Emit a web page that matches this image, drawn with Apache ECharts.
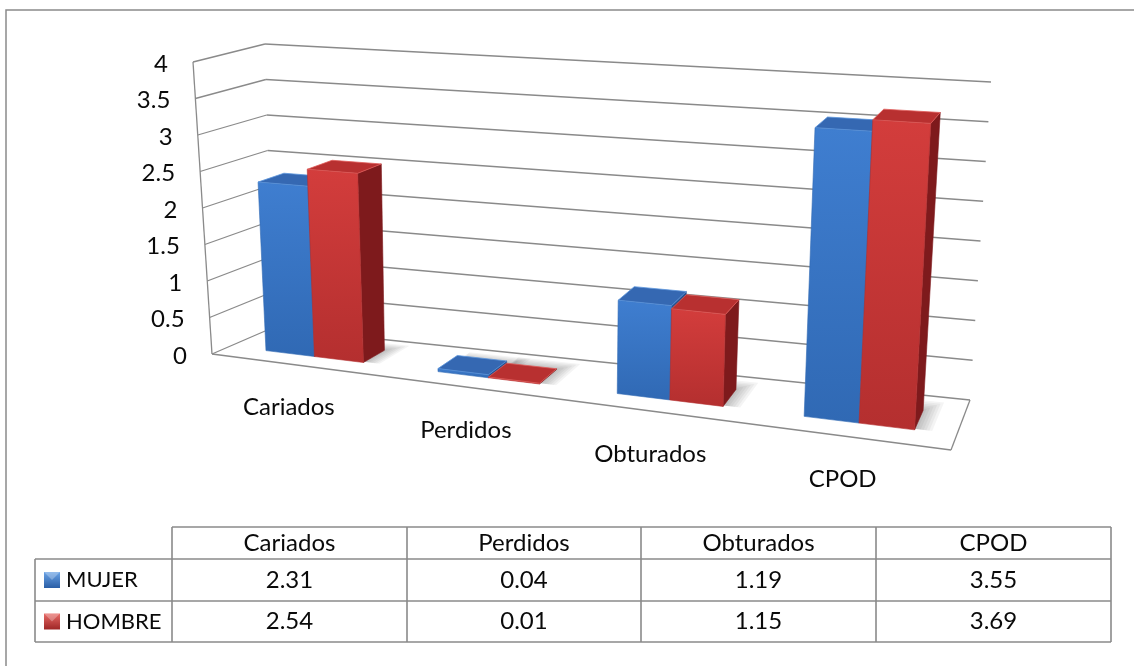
<!DOCTYPE html>
<html>
<head>
<meta charset="utf-8">
<script src="https://cdn.jsdelivr.net/npm/echarts@6/dist/echarts.min.js"></script>
<style>
  html, body { margin: 0; padding: 0; background: #ffffff; }
  #chart { width: 1134px; height: 666px; }
</style>
</head>
<body>
<div id="chart"></div>
<script>
// ---- data ----
const categories = ['Cariados', 'Perdidos', 'Obturados', 'CPOD'];
const seriesNames = ['MUJER', 'HOMBRE'];
const mujer = [2.31, 0.04, 1.19, 3.55];
const hombre = [2.54, 0.01, 1.15, 3.69];
const yTicks = [0, 0.5, 1, 1.5, 2, 2.5, 3, 3.5, 4];
const yTickLabels = ['0', '0.5', '1', '1.5', '2', '2.5', '3', '3.5', '4'];

// ---- look ----
const FONT_FAMILY = 'Lato, "Open Sans", sans-serif';
const FONT_SIZE = 24;
const KEY_FONT_SIZE = 22;
const LINE_COLOR = '#8a8a8a';
const TEXT_COLOR = '#0a0a0a';

// corners of the 3D plot box (front/back, left/right, bottom/top)
const BOX = {
  flb: [212, 354], frb: [951, 450], blb: [272, 328], brb: [970, 400],
  flt: [193, 62],  frt: [970, 108], blt: [265, 44],  brt: [991, 82]
};
const PERSPECTIVE_U = 0.92;   // horizontal foreshortening toward the far (left) side
const DEPTH_FRONT = 0.3, DEPTH_BACK = 0.7; // bar row position in depth
const GAP_WIDTH = 1.5;        // gap between clusters, in bar widths

function lerp(a, b, t) { return [a[0] + (b[0] - a[0]) * t, a[1] + (b[1] - a[1]) * t]; }
function warpU(u) { const c = PERSPECTIVE_U; return u * c / (1 + (c - 1) * u); }
// u: along categories, v: along values (0..1), w: depth (0 front .. 1 back)
function project(u, v, w) {
  const s = warpU(u);
  const fb = lerp(BOX.flb, BOX.frb, s), bb = lerp(BOX.blb, BOX.brb, s);
  const ft = lerp(BOX.flt, BOX.frt, s), bt = lerp(BOX.blt, BOX.brt, s);
  return lerp(lerp(fb, bb, w), lerp(ft, bt, w), v);
}

// unit coordinates from the hidden cartesian grid
function uOf(cs, px) { return (px - cs.x) / cs.width; }
function vOf(cs, py) { return (cs.y + cs.height - py) / cs.height; }

function line(p, q) {
  return { type: 'line', shape: { x1: p[0], y1: p[1], x2: q[0], y2: q[1] },
           style: { stroke: LINE_COLOR, lineWidth: 1.3 }, silent: true };
}
function poly(points, fill, extra) {
  return { type: 'polygon', shape: { points: points },
    style: Object.assign({ fill: fill }, extra || {}), silent: true };
}
function text(x, y, str, align, size) {
  return { type: 'text', x: x, y: y, silent: true,
    style: { text: str, fill: TEXT_COLOR, fontFamily: FONT_FAMILY, fontSize: size || FONT_SIZE,
             align: align || 'center', verticalAlign: 'middle' } };
}

// walls, gridlines and value labels, one item per tick
function renderWalls(params, api) {
  const cs = params.coordSys;
  const v = vOf(cs, api.coord([0, api.value(1)])[1]);
  const children = [
    line(project(0, v, 0), project(0, v, 1)),
    line(project(0, v, 1), project(1, v, 1))
  ];
  const lp = project(0, v, 0);
  children.push(text(lp[0] - 25, lp[1] + 2, yTickLabels[params.dataIndex], 'right'));
  if (params.dataIndex === 0) {
    const vTop = vOf(cs, api.coord([0, yTicks[yTicks.length - 1]])[1]);
    children.push(line(project(0, 0, 0), project(0, vTop, 0)));
    children.push(line(project(0, 0, 0), project(1, 0, 0)));
    children.push(line(project(1, 0, 0), project(1, 0, 1)));
  }
  return { type: 'group', children: children };
}

function barSpan(params, api, seriesPos) {
  const cs = params.coordSys;
  const uc = uOf(cs, api.coord([api.value(0), 0])[0]);
  const band = api.size([1, 0])[0] / cs.width;
  const bw = band / (2 + GAP_WIDTH);
  const u0 = uc - bw + seriesPos * bw;
  return { u0: u0, u1: u0 + bw, v: vOf(cs, api.coord([api.value(0), api.value(1)])[1]) };
}

// soft floor shadow: stacked translucent footprints growing to the right and back
function makeShadowRenderer(seriesPos) {
  return function (params, api) {
    const b = barSpan(params, api, seriesPos);
    const layers = [];
    const steps = 6;
    for (let k = steps; k >= 1; k--) {
      const t = k / steps;
      const du = 0.022 * t, dw = 0.2 * t;
      const pts = [
        project(b.u0 + 0.01 - 0.006 * t, 0, DEPTH_FRONT + 0.02), project(b.u1 + du, 0, DEPTH_FRONT + 0.02),
        project(b.u1 + du, 0, DEPTH_BACK + dw), project(b.u0 + 0.01 - 0.006 * t, 0, DEPTH_BACK + dw)
      ];
      layers.push(poly(pts, 'rgba(0,0,0,0.045)'));
    }
    return { type: 'group', children: layers };
  };
}

const PALETTE = [
  { frontTop: '#3f7ed0', frontBottom: '#3069b4', top: '#3568b2', side: '#24518f', edge: '#5a94dc' },
  { frontTop: '#d33d3c', frontBottom: '#b42f2f', top: '#b83030', side: '#7e1a1c', edge: '#e05a58' }
];

function makeBarRenderer(seriesPos) {
  const c = PALETTE[seriesPos];
  return function (params, api) {
    const b = barSpan(params, api, seriesPos);
    const f0 = DEPTH_FRONT, f1 = DEPTH_BACK;
    const front = [project(b.u0, 0, f0), project(b.u1, 0, f0), project(b.u1, b.v, f0), project(b.u0, b.v, f0)];
    const top = [project(b.u0, b.v, f0), project(b.u1, b.v, f0), project(b.u1, b.v, f1), project(b.u0, b.v, f1)];
    const side = [project(b.u1, 0, f0), project(b.u1, 0, f1), project(b.u1, b.v, f1), project(b.u1, b.v, f0)];
    const grad = { type: 'linear', x: 0, y: 0, x2: 0, y2: 1,
      colorStops: [{ offset: 0, color: c.frontTop }, { offset: 1, color: c.frontBottom }] };
    return { type: 'group', children: [
      poly(side, c.side, { stroke: c.side, lineWidth: 0.6 }),
      poly(front, grad, { stroke: c.frontBottom, lineWidth: 0.6 }),
      poly(top, c.top, { stroke: c.edge, lineWidth: 0.8 })
    ] };
  };
}

function renderCategoryLabel(params, api) {
  const cs = params.coordSys;
  const uc = uOf(cs, api.coord([api.value(0), 0])[0]);
  const p = project(uc, 0, 0);
  return text(p[0] - 9, p[1] + 42, categories[params.dataIndex], 'center');
}

// ---- data table with legend keys ----
const TABLE = { keyLeft: 35, cols: [172, 407, 641, 876, 1111], rows: [527, 559, 601, 642] };
const KEY_COLORS = [['#6aa3e6', '#2a5ea6'], ['#e86a66', '#9e2626']];

function tableGraphics() {
  const g = [];
  const L = (x1, y1, x2, y2) => g.push({ type: 'line', shape: { x1, y1, x2, y2 },
    style: { stroke: LINE_COLOR, lineWidth: 1.6 }, silent: true });
  const c = TABLE.cols, r = TABLE.rows;
  L(c[0], r[0], c[c.length - 1], r[0]);
  for (let i = 1; i < r.length; i++) L(TABLE.keyLeft, r[i], c[c.length - 1], r[i]);
  L(TABLE.keyLeft, r[1], TABLE.keyLeft, r[r.length - 1]);
  c.forEach(x => L(x, r[0], x, r[r.length - 1]));
  const cell = (x, y, s, align, size) => g.push(text(x, y, s, align, size));
  categories.forEach((name, i) => cell((c[i] + c[i + 1]) / 2, (r[0] + r[1]) / 2, name));
  [mujer, hombre].forEach((vals, si) => {
    const yMid = (r[si + 1] + r[si + 2]) / 2;
    const kc = KEY_COLORS[si];
    g.push({ type: 'rect', shape: { x: 44, y: yMid - 8, width: 16, height: 16 }, silent: true,
      style: { fill: { type: 'linear', x: 0, y: 0, x2: 0, y2: 1,
        colorStops: [{ offset: 0, color: kc[0] }, { offset: 1, color: kc[1] }] } } });
    g.push({ type: 'polygon', silent: true, shape: { points: [[44, yMid - 8], [60, yMid - 8], [52, yMid]] },
      style: { fill: 'rgba(255,255,255,0.28)' } });
    cell(66, yMid, seriesNames[si], 'left', KEY_FONT_SIZE);
    vals.forEach((v, i) => cell((c[i] + c[i + 1]) / 2, yMid, v.toFixed(2)));
  });
  // chart border
  g.push({ type: 'rect', shape: { x: 6, y: 10, width: 1160, height: 700 }, silent: true,
    style: { fill: 'none', stroke: LINE_COLOR, lineWidth: 1.5 } });
  return g;
}

const chart = echarts.init(document.getElementById('chart'), null, { renderer: 'canvas' });
chart.setOption({
  animation: false,
  backgroundColor: '#ffffff',
  grid: { left: 0, right: 0, top: 0, bottom: 0 },
  xAxis: { type: 'category', data: categories, show: false },
  yAxis: { type: 'value', min: 0, max: 4, interval: 0.5, show: false },
  graphic: tableGraphics(),
  series: [
    { type: 'custom', name: 'walls', renderItem: renderWalls, data: yTicks.map(t => [0, t]), silent: true },
    { type: 'custom', name: 'shadow-m', renderItem: makeShadowRenderer(0), data: mujer.map((v, i) => [i, v]), silent: true },
    { type: 'custom', name: 'shadow-h', renderItem: makeShadowRenderer(1), data: hombre.map((v, i) => [i, v]), silent: true },
    { type: 'custom', name: seriesNames[0], renderItem: makeBarRenderer(0), data: mujer.map((v, i) => [i, v]) },
    { type: 'custom', name: seriesNames[1], renderItem: makeBarRenderer(1), data: hombre.map((v, i) => [i, v]) },
    { type: 'custom', name: 'labels', renderItem: renderCategoryLabel, data: categories.map((c, i) => [i, 0]), silent: true }
  ]
});
</script>
</body>
</html>
